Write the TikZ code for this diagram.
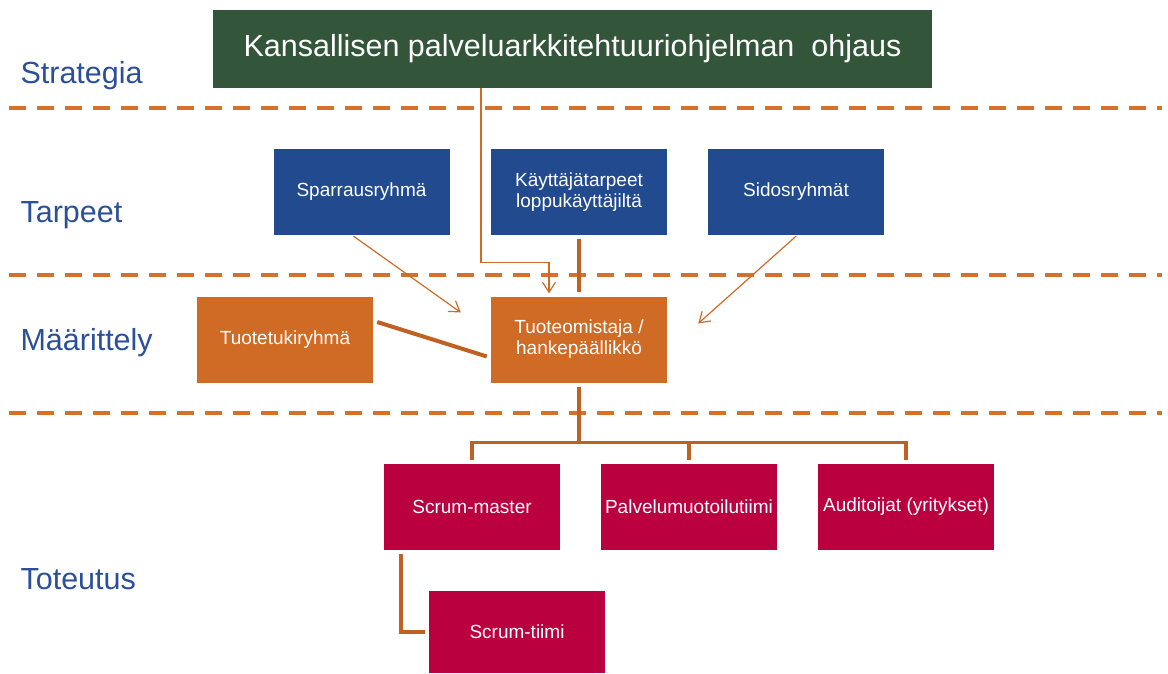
\documentclass[tikz,border=0pt]{standalone}
\usepackage{fontspec}
\setmainfont{Liberation Sans}
\usetikzlibrary{positioning,arrows.meta,calc}

\definecolor{stratgreen}{RGB}{51,85,58}
\definecolor{needblue}{RGB}{34,75,143}
\definecolor{labelblue}{RGB}{43,79,152}
\definecolor{defiorange}{RGB}{208,107,37}
\definecolor{dashorange}{RGB}{214,112,42}
\definecolor{linkbrown}{RGB}{190,97,35}
\definecolor{implred}{RGB}{186,0,63}

\tikzset{
	box/.style={rectangle, minimum width=176pt, minimum height=86pt, inner sep=1pt,
		text=white, align=center, font=\fontsize{19}{21}\selectfont},
	needbox/.style={box, fill=needblue},
	defibox/.style={box, fill=defiorange},
	implbox/.style={box, fill=implred},
	layer/.style={anchor=west, text=labelblue, font=\fontsize{30.5}{34}\selectfont},
	arr/.style={draw=defiorange, line width=1.2pt, -{Straight Barb[length=10pt,width=13pt,line width=1.2pt]}},
	link/.style={draw=linkbrown, line width=4pt},
	treelink/.style={draw=linkbrown, line width=3.5pt},
}

\begin{document}
\begin{tikzpicture}[x=1pt,y=-1pt]
	\useasboundingbox (0,0) rectangle (1168,673);

	% layer separators
	\foreach \yy in {108,275,413}
		\draw[dashorange, line width=4pt, dash pattern=on 17pt off 11pt] (9,\yy) -- (1162,\yy);

	% layer names
	\node[layer] (strategia) at (17,76) {Strategia};
	\node[layer] (tarpeet) at (17,215) {Tarpeet};
	\node[layer] (maarittely) at (17,343) {Määrittely};
	\node[layer] (toteutus) at (17,579) {Toteutus};

	% strategy
	\node[rectangle, fill=stratgreen, minimum width=719pt, minimum height=78pt, text=white,
		font=\fontsize{30.5}{34}\selectfont] (ohjaus) at (572.5,49) {Kansallisen palveluarkkitehtuuriohjelman\ \ ohjaus};

	% needs
	\node[needbox] (sparring) at (361.5,192) {Sparrausryhmä};
	\node[needbox] (needs) at (579,192) {Käyttäjätarpeet\\loppukäyttäjiltä};
	\node[needbox] (stake) at (796,192) {Sidosryhmät};

	% definition
	\node[defibox] (support) at (285,340) {Tuotetukiryhmä};
	\node[defibox] (owner) at (579,339.5) {Tuoteomistaja /\\hankepäällikkö};

	% implementation
	\node[implbox] (sm) at (472,507) {Scrum-master};
	\node[implbox] (pal) at (689,507) {Palvelumuotoilutiimi};
	\node[implbox] (aud) at (906,507) {Auditoijat (yritykset)};
	\node[implbox, minimum height=82pt] (team) at (517,632) {Scrum-tiimi};

	% connectors
	\draw[arr] ([xshift=-91.5pt]ohjaus.south) -- ++(0,174) -| ([xshift=-30pt,yshift=3pt]owner.north);
	\draw[link] ([yshift=-4pt]needs.south) -- ([yshift=4pt]owner.north);
	\draw[arr] ([xshift=-8pt,yshift=-1pt]sparring.south) -- ([xshift=-30pt,yshift=27pt]owner.west);
	\draw[arr] ([yshift=-1pt]stake.south) -- ([xshift=31pt,yshift=16pt]owner.east);
	\draw[link] ([xshift=4pt,yshift=18pt]support.east) -- ([xshift=-4pt,yshift=-17pt]owner.west);

	\draw[treelink] ([yshift=-4pt]owner.south) -- ++(0,56) coordinate (hub);
	\draw[treelink] ([yshift=4pt]sm.north) |- (hub) -| ([yshift=4pt]aud.north);
	\draw[treelink] (hub -| pal.north) -- ([yshift=4pt]pal.north);
	\draw[treelink] ([xshift=-71pt,yshift=-4pt]sm.south) |- ([xshift=-4pt]team.west);
\end{tikzpicture}
\end{document}
